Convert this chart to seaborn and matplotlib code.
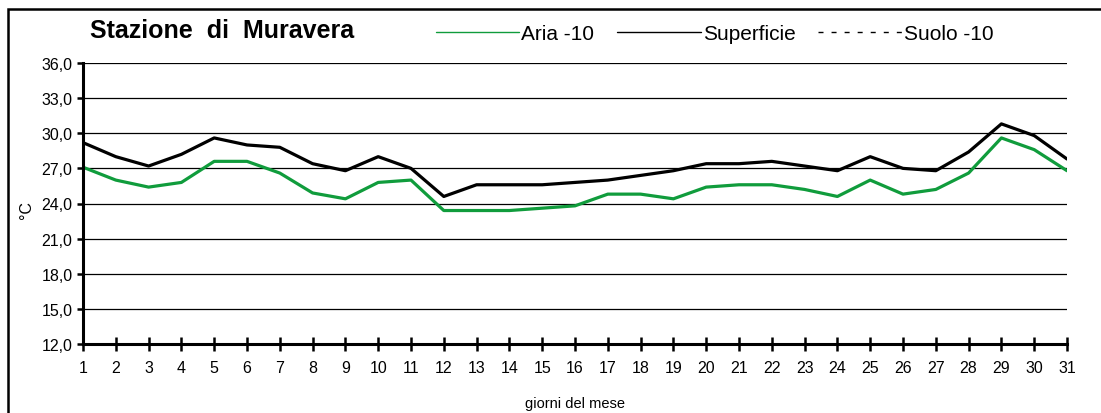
import numpy as np
import pandas as pd
import matplotlib
matplotlib.use("Agg")
import matplotlib.pyplot as plt
from matplotlib.lines import Line2D
from matplotlib.patches import Rectangle
from matplotlib.ticker import FuncFormatter
import seaborn as sns

# Daily temperatures, Muravera station
days = list(range(1, 32))
aria_10 = [27.1, 26.0, 25.4, 25.8, 27.6, 27.6, 26.6, 24.9, 24.4, 25.8,
           26.0, 23.4, 23.4, 23.4, 23.6, 23.8, 24.8, 24.8, 24.4, 25.4,
           25.6, 25.6, 25.2, 24.6, 26.0, 24.8, 25.2, 26.6, 29.6, 28.6, 26.8]
superficie = [29.2, 28.0, 27.2, 28.2, 29.6, 29.0, 28.8, 27.4, 26.8, 28.0,
              27.0, 24.6, 25.6, 25.6, 25.6, 25.8, 26.0, 26.4, 26.8, 27.4,
              27.4, 27.6, 27.2, 26.8, 28.0, 27.0, 26.8, 28.4, 30.8, 29.8, 27.8]
suolo_10 = [np.nan] * 31  # no soil readings this month

series_names = ["Aria -10", "Superficie", "Suolo -10"]
series_colors = {"Aria -10": "#109c3c", "Superficie": "#000000", "Suolo -10": "#000000"}
y_ticks = [12, 15, 18, 21, 24, 27, 30, 33, 36]

df = pd.DataFrame({
    "giorno": days * 2,
    "temperatura": aria_10 + superficie,
    "serie": ["Aria -10"] * 31 + ["Superficie"] * 31,
})

sns.set_style("white")
plt.rcParams["font.family"] = ["Liberation Sans", "DejaVu Sans"]
plt.rcParams["text.color"] = "black"
plt.rcParams["axes.labelcolor"] = "black"

fig = plt.figure(figsize=(11.01, 4.14), dpi=100)
ax = fig.add_axes([83 / 1101, 1 - 345 / 414, (1067 - 83) / 1101, (345 - 64) / 414])

sns.lineplot(data=df, x="giorno", y="temperatura", hue="serie",
             palette=series_colors, hue_order=["Aria -10", "Superficie"],
             linewidth=2.3, ax=ax, legend=False, zorder=3)
soil_dash = (0, (3.6, 5.8))
ax.plot(days, suolo_10, color="black", linestyle=soil_dash, linewidth=1)

ax.set_xlim(1, 31)
ax.set_ylim(12, 36)
ax.set_xticks(days)
ax.set_yticks(y_ticks)
ax.yaxis.set_major_formatter(FuncFormatter(lambda v, p: f"{v:.1f}".replace(".", ",")))

ax.grid(axis="y", color="black", linewidth=0.9)
ax.grid(axis="x", visible=False)
ax.set_axisbelow(True)
for side in ("top", "right"):
    ax.spines[side].set_visible(False)
for side in ("left", "bottom"):
    ax.spines[side].set_color("black")
    ax.spines[side].set_linewidth(2.2)
    ax.spines[side].set_zorder(4)

ax.tick_params(axis="x", direction="inout", length=9.4, width=1.8, pad=7.0,
               labelsize=11.5, colors="black", bottom=True)
ax.tick_params(axis="y", direction="out", length=4.5, width=1.8, pad=3.0,
               labelsize=11.5, colors="black", left=True)

ax.set_xlabel("giorni del mese", fontsize=10.5)
ax.xaxis.set_label_coords(0.5, -0.185)
ax.set_ylabel("°C", fontsize=11.5)
ax.yaxis.set_label_coords(-0.05, 0.48)

fig.text(90 / 1101, 1 - 31 / 414, "Stazione  di  Muravera", fontsize=18,
         fontweight="bold", ha="left", va="center", color="black")

handles = [
    Line2D([], [], color=series_colors["Aria -10"], linewidth=1),
    Line2D([], [], color="black", linewidth=1),
    Line2D([], [], color="black", linewidth=1, linestyle=soil_dash),
]
fig.legend(handles, series_names, loc="center left",
           bbox_to_anchor=(436 / 1101, 1 - 35 / 414), ncol=3, frameon=False,
           fontsize=15, handlelength=4.0, handletextpad=0.1,
           columnspacing=1.1, borderpad=0, borderaxespad=0)

fig.add_artist(Rectangle((8 / 1101, -0.05), 1.2, 1.05 - 10 / 414,
                         transform=fig.transFigure, fill=False,
                         edgecolor="black", linewidth=1.8, clip_on=False))

fig.savefig("out.png", dpi=100)
